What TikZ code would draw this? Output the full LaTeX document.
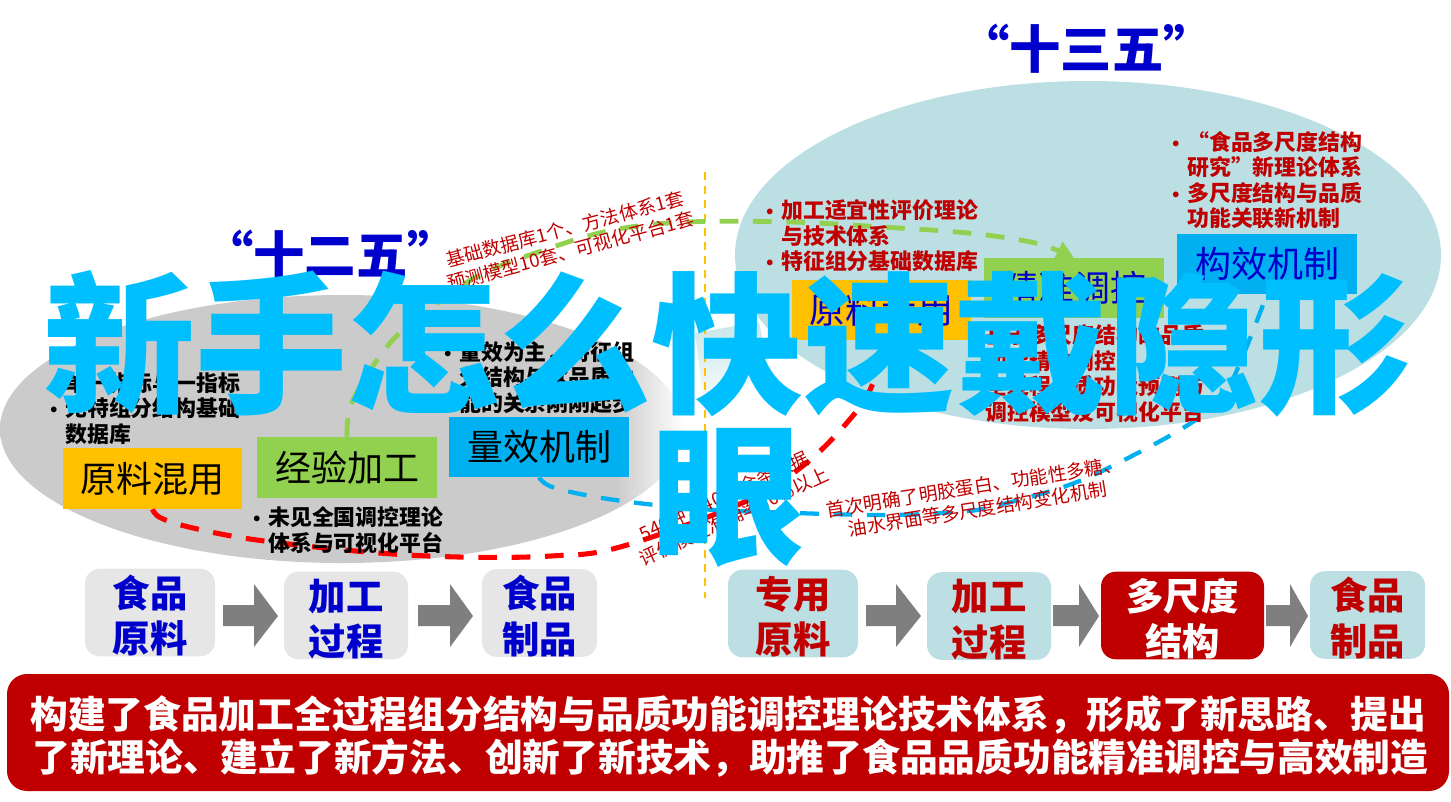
\documentclass[tikz,border=0pt]{standalone}
\usepackage{fontspec}
\usetikzlibrary{arrows.meta}
\setmainfont{Liberation Sans}
\newfontfamily\cjk{Noto Sans CJK SC}
\newfontfamily\latf{Liberation Sans}
\definecolor{dred}{HTML}{C00000}
\definecolor{dblue}{HTML}{0000CC}
\definecolor{teal0}{HTML}{BBDFE3}
\definecolor{gray0}{HTML}{CBCBCB}
\definecolor{gray1}{HTML}{E6E6E6}
\definecolor{arrowgray}{HTML}{7F7F7F}
\definecolor{ygold}{HTML}{FFC000}
\definecolor{lgreen}{HTML}{92D050}
\definecolor{sky}{HTML}{00B0F0}
\definecolor{cyanbig}{HTML}{00BFFF}
\pgfdeclarehorizontalshading{grayfade}{100bp}{color(0bp)=(gray0); color(70bp)=(gray0); color(75bp)=(white); color(100bp)=(white)}
\newcommand{\bl}{\llap{\latf\fontsize{15}{15}\selectfont •\hspace{6pt}}}
\newcommand{\fr}{\rule{0pt}{29pt}}
\newcommand{\bx}[7]{\node[#2, minimum width={(#5-#3)*0.75pt}, minimum height={(#6-#4)*0.75pt}] (#1) at ({(#3+#5)/2},{(#4+#6)/2}) {#7};}
\newcommand{\barrow}[3]{\fill[arrowgray] (#1,605) -- (#2,605) -- (#2,584) -- (#3,616) -- (#2,647) -- (#2,626) -- (#1,626) -- cycle;}
\tikzset{
  x=0.75pt,y=-0.75pt,
  lab/.style={inner sep=0pt,font=\cjk\fontsize{27}{30}\selectfont,text=black},
  mech/.style={lab,fill=sky},
  raw/.style={lab,fill=ygold},
  proc/.style={lab,fill=lgreen},
  flow/.style={inner sep=0pt,rounded corners=11pt,align=center,font=\cjk\bfseries\fontsize{28}{34}\selectfont},
  flowgray/.style={flow,fill=gray1,text=dblue},
  flowteal/.style={flow,fill=teal0,text=dred},
  flowred/.style={flow,fill=dred,text=white},
  title/.style={inner sep=0pt,font=\cjk\bfseries\fontsize{38.5}{40}\selectfont,text=dblue},
  blist/.style={inner sep=0pt,anchor=west,align=left,font=\cjk\bfseries\fontsize{16.4}{19.1}\selectfont},
  note/.style={inner sep=0pt,align=center,text=dred,font=\cjk\fontsize{14}{17}\selectfont},
  conn/.style={line width=3.6pt,dash pattern=on 14pt off 11pt},
  banner/.style={inner sep=0pt,anchor=west,text=white}
}
\begin{document}
\begin{tikzpicture}
\useasboundingbox (0,0) rectangle (1451,801);
% ellipses
\path[shading=grayfade] (342,429) ellipse [x radius=342,y radius=134];
\fill[teal0] (1088,255) ellipse [x radius=353,y radius=174];
\path[top color=teal0!80!white,bottom color=white] (695,333) -- (759,322) -- (769,370) -- (705,413) -- cycle;
% divider
\coordinate (dtop) at (705,172);
\coordinate (dbot) at (705,598);
\draw[ygold,line width=1.6pt,dash pattern=on 6pt off 4.5pt] (dtop) -- (dbot);
% boxes
\bx{lraw}{raw}{63}{448}{242}{509}{原料混用}
\bx{lproc}{proc}{257}{437}{437}{498}{经验加工}
\bx{lmech}{mech}{449}{417}{629}{477}{量效机制}
\bx{rraw}{raw,text=dblue}{792}{280}{971}{340}{原料专用}
\bx{rproc}{proc,text=dblue}{984}{258}{1164}{318}{精准调控}
\bx{rmech}{mech,text=dblue}{1177}{234}{1357}{294}{构效机制}
% connectors
\draw[lgreen,conn,-{Triangle[length=13pt,width=13pt]}] plot[smooth,tension=0.6] coordinates {(lproc.north) (353,400) (390,343) (431,308) (480,275) (547,249) (613,230) (687,222) (791,222) (882,227) (968,233) (1035,243) (rproc.north)};
\draw[red,conn,line width=3.8pt] plot[smooth,tension=0.6] coordinates {(lraw.south) (161,518) (193,528) (257,540) (367,552) (459,557) (551,556) (620,547) (742,503) (804,465) (851,418) (873,383) (rraw.south)};
\draw[sky,conn,line width=3.2pt] plot[smooth,tension=0.6] coordinates {(lmech.south) (555,488) (615,500) (700,509) (795,513) (889,515) (955,512) (991,507) (1069,485) (1130,457) (1191,423) (1225,395) (rmech.south)};
% titles
\node[title] (t12) at (330.5,255) {“十二五”};
\node[title] (t13) at (1086.5,49) {“十三五”};
% bullet lists
\node[blist] (b1) at (65,408.5) {\bl 单一指标与一指标\\\bl 无特组分结构基础\\数据库};
\node[blist] (b2) at (459,377.5) {\bl 量效为主，特征组\\分结构与食品质功\\能的关系刚刚起步};
\node[blist] (b3) at (268,530) {\bl 未见全国调控理论\\体系与可视化平台};
\node[blist,text=dred] (b4) at (781,236) {\bl 加工适宜性评价理论\\与技术体系\\\bl 特征组分基础数据库};
\node[blist,text=dred] (b5) at (1187,180) {\bl “食品多尺度结构\\研究”新理论体系\\\bl 多尺度结构与品质\\功能关联新机制};
\node[blist,text=dred] (b6) at (985,373.5) {\bl 基于多尺度结构的品质\\功能精准调控\\\bl 全过程品质功能预测与\\调控模型及可视化平台};
% rotated notes
\node[note,rotate=15] (n1) at (568,240) {基础数据库1个、方法体系1套\\预测模型10套、可视化平台1套};
\node[note,rotate=25] (n2) at (729,506) {540种，4000余条数据\\评价模型准确率80\%以上};
\node[note,rotate=9] (n3) at (976,498) {首次明确了明胶蛋白、功能性多糖、\\油水界面等多尺度结构变化机制};
% flow row
\bx{f1}{flowgray}{85}{571}{215}{654}{\fr 食品\\原料}
\bx{f2}{flowgray}{284}{574}{408}{657}{\fr 加工\\过程}
\bx{f3}{flowgray}{482}{572}{597}{654}{\fr 食品\\制品}
\bx{f4}{flowteal}{728}{572}{858}{655}{\fr 专用\\原料}
\bx{f5}{flowteal}{927}{575}{1051}{657}{\fr 加工\\过程}
\bx{f6}{flowred}{1101}{574}{1264}{657}{\fr 多尺度\\结构}
\bx{f7}{flowteal}{1310}{574}{1425}{656}{\fr 食品\\制品}
\barrow{223}{254}{278}
\barrow{418}{450}{473}
\barrow{866}{896}{921}
\barrow{1053}{1079}{1099}
\barrow{1266}{1290}{1308}
% banner
\fill[dred,rounded corners=15pt] (7,674) rectangle (1449,791);
\node[banner,font=\cjk\bfseries\fontsize{28.3}{30}\selectfont] (l1) at (30,715) {构建了食品加工全过程组分结构与品质功能调控理论技术体系，形成了新思路、提出};
\node[banner,font=\cjk\bfseries\fontsize{28.3}{30}\selectfont] (l2) at (32,758) {了新理论、建立了新方法、创新了新技术，助推了食品品质功能精准调控与高效制造};
% overlay
\node[inner sep=0pt,align=center,text=cyanbig,font=\cjk\bfseries\fontsize{114}{113}\selectfont] (big) at (727,419) {新手怎么快速戴隐形\\眼};
\end{tikzpicture}
\end{document}
